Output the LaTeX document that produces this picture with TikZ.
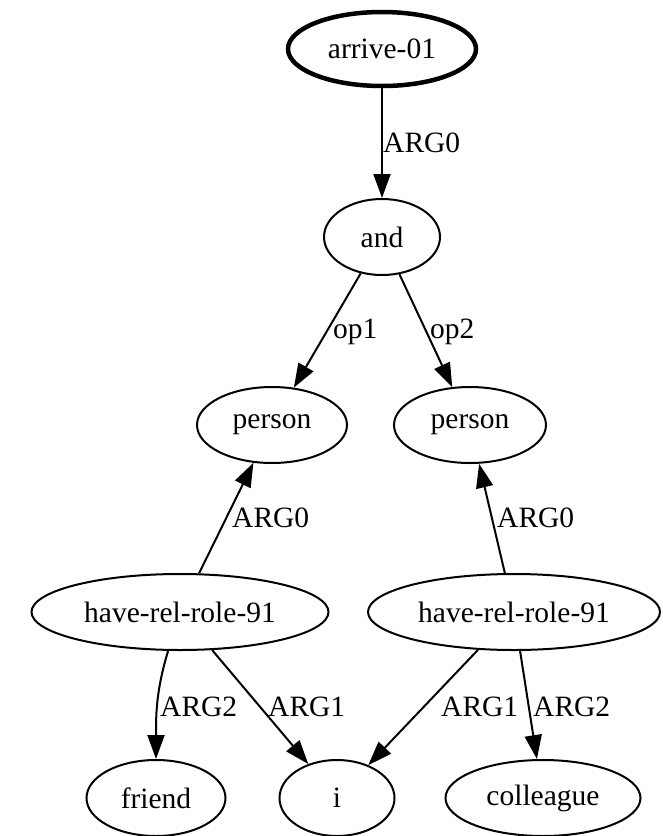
\documentclass[tikz,border=0pt]{standalone}
\usepackage{fontspec}
\setmainfont{Liberation Serif}
\usetikzlibrary{arrows.meta,shapes.geometric}
\begin{document}
\begin{tikzpicture}[x=1pt,y=1pt,
  concept/.style={ellipse, draw, line width=2pt, inner sep=0pt,
    font=\fontsize{29.5}{35}\selectfont},
  root/.style={concept, line width=4.5pt},
  rel/.style={draw, line width=2pt, -{Triangle[length=24pt,width=17pt]}},
  lbl/.style={anchor=base west, inner sep=0pt,
    font=\fontsize{29.5}{35}\selectfont}]
\useasboundingbox (0,0) rectangle (662,-836);

% concepts
\node[root, minimum width=188pt, minimum height=74pt] (arrive) at (382,-49) {arrive-01};
\node[concept, minimum width=116pt, minimum height=76pt] (and) at (382,-237) {and};
\node[concept, minimum width=150pt, minimum height=76pt] (p1) at (272,-425) {person};
\node[concept, minimum width=152pt, minimum height=76pt] (p2) at (470,-425) {person};
\node[concept, minimum width=297pt, minimum height=76pt] (h1) at (180,-612) {have-rel-role-91};
\node[concept, minimum width=292pt, minimum height=76pt] (h2) at (514,-612) {have-rel-role-91};
\node[concept, minimum width=139pt, minimum height=76pt] (friend) at (156,-798) {friend};
\node[concept, minimum width=115pt, minimum height=76pt] (i) at (337,-798) {i};
\node[concept, minimum width=195pt, minimum height=76pt] (coll) at (543,-798) {colleague};

% relations
\draw[rel] (arrive) -- (and);
\draw[rel] (and) -- (p1);
\draw[rel] (and) -- (p2);
\draw[rel] (h1) -- (p1);
\draw[rel] (h2) -- (p2);
\draw[rel] (h1) to[out=-107, in=90] (friend);
\draw[rel] (h1) -- (i);
\draw[rel] (h2) -- (i);
\draw[rel] (h2) -- (coll);

% role labels
\node[lbl] (l0) at (383,-152) {ARG0};
\node[lbl] (l1) at (333,-338) {op1};
\node[lbl] (l2) at (430,-338) {op2};
\node[lbl] (l3) at (232,-527) {ARG0};
\node[lbl] (l4) at (497,-527) {ARG0};
\node[lbl] (l5) at (160,-716) {ARG2};
\node[lbl] (l6) at (268,-716) {ARG1};
\node[lbl] (l7) at (441,-716) {ARG1};
\node[lbl] (l8) at (533,-716) {ARG2};
\end{tikzpicture}
\end{document}
